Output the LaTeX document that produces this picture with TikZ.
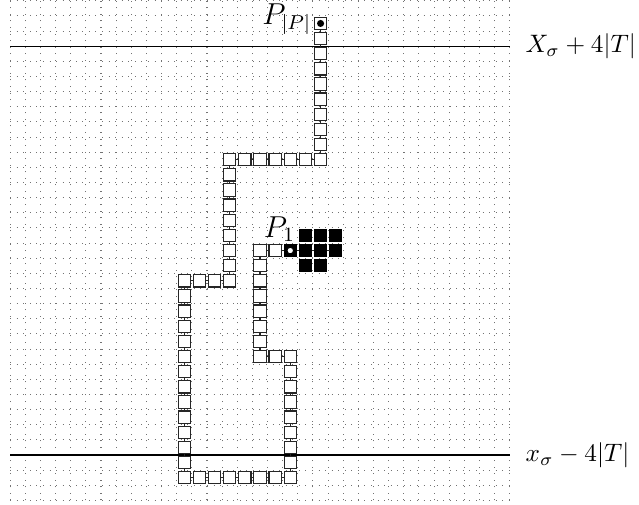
\documentclass[tikz,border=0pt]{standalone}
\begin{document}
\begin{tikzpicture}[x=6pt,y=6pt,
  cell/.style={draw=black!85,fill=white,line width=0.45pt,minimum size=4.85pt,inner sep=0pt,outer sep=0pt},
  blk/.style={draw=black,fill=black,line width=0.45pt,minimum size=4.85pt,inner sep=0pt,outer sep=0pt},
  link/.style={line width=0.45pt,black!85},
  gridline/.style={black!55,line width=0.4pt,dash pattern=on 0.4pt off 2.2pt},
  bound/.style={line width=0.45pt,black}]
\useasboundingbox (-12.17,-1.74) rectangle (30.03,31.55);
% dotted grid
\foreach \gx in {-11.5,-10.5,...,21.6} \draw[gridline] (\gx,-1.5) -- (\gx,31.5);
\foreach \gy in {-1.5,-0.5,...,31.6} \draw[gridline] (-11.5,\gy) -- (21.5,\gy);
% bounding lines
\coordinate (tl) at (-11.5,28.5);
\coordinate (tr) at (21.5,28.5);
\coordinate (bl) at (-11.5,1.5);
\coordinate (br) at (21.5,1.5);
\draw[bound] (tl) -- (tr);
\draw[bound] (bl) -- (br);
\node[anchor=west] (toplab) at (21.95,28.5) {$X_\sigma+4|T|$};
\node[anchor=west] (botlab) at (21.95,1.5) {$x_\sigma-4|T|$};
% path cells
\foreach \cx/\cy [count=\n] in {7/15,6/15,5/15,
  5/14,5/13,5/12,5/11,5/10,5/9,5/8,
  6/8,7/8,
  7/7,7/6,7/5,7/4,7/3,7/2,7/1,7/0,
  6/0,5/0,4/0,3/0,2/0,1/0,0/0,
  0/1,0/2,0/3,0/4,0/5,0/6,0/7,0/8,0/9,0/10,0/11,0/12,0/13,
  1/13,2/13,3/13,
  3/14,3/15,3/16,3/17,3/18,3/19,3/20,3/21,
  4/21,5/21,6/21,7/21,8/21,9/21,
  9/22,9/23,9/24,9/25,9/26,9/27,9/28,9/29,9/30}
  \node[cell] (c\n) at (\cx,\cy) {};
\foreach \n [remember=\n as \m (initially 1)] in {2,...,66}
  \draw[link] (c\m) -- (c\n);
% black cells
\foreach \bx/\by [count=\k] in {8/16,9/16,10/16,8/15,9/15,10/15,8/14,9/14}
  \node[blk] (b\k) at (\bx,\by) {};
\draw[link] (c1) -- (b4);
\draw[link] (b4) -- (b5);
\draw[link] (b5) -- (b6);
% special cells
\node[blk] (pone) at (c1) {};
\node[circle,draw=black,fill=white,line width=0.4pt,minimum size=2.6pt,inner sep=0pt] (poned) at (pone) {};
\node[circle,fill=black,minimum size=2.8pt,inner sep=0pt] (plastd) at (c66) {};
% labels
\node[anchor=base east,inner sep=0pt,font=\large] (lp1) at (7.35,15.88) {$P_1$};
\node[anchor=base east,inner sep=0pt,font=\large] (lpp) at (8.42,29.9) {$P_{|P|}$};
\end{tikzpicture}
\end{document}
